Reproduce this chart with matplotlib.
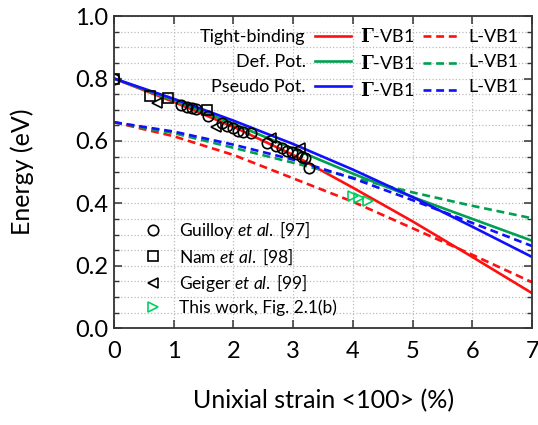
import numpy as np
import matplotlib.pyplot as plt
from matplotlib.lines import Line2D
from matplotlib.ticker import MultipleLocator

plt.rcParams['font.family'] = ['Lato', 'DejaVu Sans']
plt.rcParams['mathtext.fontset'] = 'custom'
plt.rcParams['mathtext.rm'] = 'Lato'
plt.rcParams['mathtext.it'] = 'Lato:italic'
plt.rcParams['mathtext.bf'] = 'DejaVu Serif:bold'

# strain (%) for the computed curves
strain = [0, 1, 2, 3, 4, 5, 6, 7]

# Gamma-VB1 and L-VB1 energies (eV)
tb_gamma = [0.80, 0.725, 0.645, 0.555, 0.45, 0.342, 0.228, 0.112]
tb_l = [0.66, 0.615, 0.555, 0.48, 0.405, 0.32, 0.235, 0.147]
dp_gamma = [0.80, 0.73, 0.655, 0.575, 0.495, 0.42, 0.35, 0.28]
dp_l = [0.66, 0.625, 0.578, 0.53, 0.482, 0.435, 0.392, 0.352]
pp_gamma = [0.80, 0.735, 0.665, 0.59, 0.508, 0.42, 0.325, 0.228]
pp_l = [0.66, 0.63, 0.588, 0.54, 0.48, 0.41, 0.337, 0.263]

# experimental points
guilloy_x = [0, 1.12, 1.22, 1.30, 1.37, 1.57, 1.81, 1.89, 1.99, 2.07, 2.16, 2.29,
             2.56, 2.71, 2.81, 2.89, 2.98, 3.06, 3.14, 3.19, 3.26]
guilloy_y = [0.80, 0.715, 0.708, 0.705, 0.702, 0.679, 0.657, 0.647, 0.641, 0.631, 0.628, 0.625,
             0.593, 0.583, 0.577, 0.567, 0.564, 0.558, 0.548, 0.545, 0.513]
nam_x = [0, 0.60, 0.90, 1.55]
nam_y = [0.80, 0.745, 0.737, 0.70]
geiger_x = [0.72, 1.71, 2.63, 3.11]
geiger_y = [0.721, 0.644, 0.609, 0.577]
this_x = [4.0, 4.11, 4.25]
this_y = [0.423, 0.417, 0.407]

red = '#ff1010'
green = '#00a050'
blue = '#1010ff'
lw = 1.9
dash = (3, 1.8)

fig = plt.figure(figsize=(5.38, 4.25), dpi=100)
ax = fig.add_axes([0.212, 0.228, 0.777, 0.734])

l1, = ax.plot(strain, tb_gamma, color=red, lw=lw)
l2, = ax.plot(strain, tb_l, color=red, lw=lw, dashes=dash)
l3, = ax.plot(strain, dp_gamma, color=green, lw=lw)
l4, = ax.plot(strain, dp_l, color=green, lw=lw, dashes=dash)
l5, = ax.plot(strain, pp_gamma, color=blue, lw=lw)
l6, = ax.plot(strain, pp_l, color=blue, lw=lw, dashes=dash)

mk = dict(linestyle='none', mfc='none', mew=1.2, ms=7.5)
m1, = ax.plot(guilloy_x, guilloy_y, marker='o', mec='k', **mk)
m2, = ax.plot(nam_x, nam_y, marker='s', mec='k', **mk)
m3, = ax.plot(geiger_x, geiger_y, marker='<', mec='k', **mk)
m4, = ax.plot(this_x, this_y, marker='>', mec='#00d060', **mk)

ax.set_xlim(0, 7)
ax.set_ylim(0, 1.0)
ax.xaxis.set_major_locator(MultipleLocator(1))
ax.yaxis.set_major_locator(MultipleLocator(0.2))
ax.yaxis.set_minor_locator(MultipleLocator(0.05))
ax.set_yticklabels(['%.1f' % v for v in ax.get_yticks()])
ax.tick_params(which='both', direction='in', top=True, right=True, labelsize=17, colors='#333333', labelcolor='k')
ax.tick_params(which='major', length=6, width=1.1)
ax.tick_params(which='minor', length=3.5, width=1.0)
ax.tick_params(axis='x', pad=9)
ax.tick_params(axis='y', pad=4)
for s in ax.spines.values():
    s.set_linewidth(1.3)
    s.set_color('#333333')
ax.grid(True, which='major', axis='x', color='#bbbbbb', linestyle=':', lw=0.9)
ax.grid(True, which='both', axis='y', color='#bbbbbb', linestyle=':', lw=0.9)
ax.set_axisbelow(True)

ax.set_xlabel('Unixial strain <100> (%)', fontsize=18, labelpad=20)
ax.set_ylabel('Energy (eV)', fontsize=18, labelpad=30)

blank = Line2D([], [], linestyle='none')
g = r'$\mathbf{\Gamma}$-VB1'
leg1 = ax.legend([l1, l3, l5, l2, l4, l6, blank, blank, blank],
                 ['Tight-binding', 'Def. Pot.', 'Pseudo Pot.', g, g, g, 'L-VB1', 'L-VB1', 'L-VB1'],
                 ncol=3, markerfirst=False, frameon=False, fontsize=13,
                 handlelength=2.0, handletextpad=0.5, columnspacing=0.5, labelspacing=0.5,
                 borderpad=0, borderaxespad=0, loc='upper right', bbox_to_anchor=(1.075, 0.965))
ax.add_artist(leg1)

ax.legend([m1, m2, m3, m4],
          [r'Guilloy $\mathit{et\ al.}\;$[97]', r'Nam $\mathit{et\ al.}\;$[98]',
           r'Geiger $\mathit{et\ al.}\;$[99]', 'This work, Fig. 2.1(b)'],
          frameon=False, fontsize=12.5, numpoints=1, handlelength=1.2, handletextpad=0.9,
          labelspacing=0.3, borderpad=0, borderaxespad=0, loc='lower left',
          bbox_to_anchor=(0.068, 0.04))

plt.savefig('out.png', dpi=100)
